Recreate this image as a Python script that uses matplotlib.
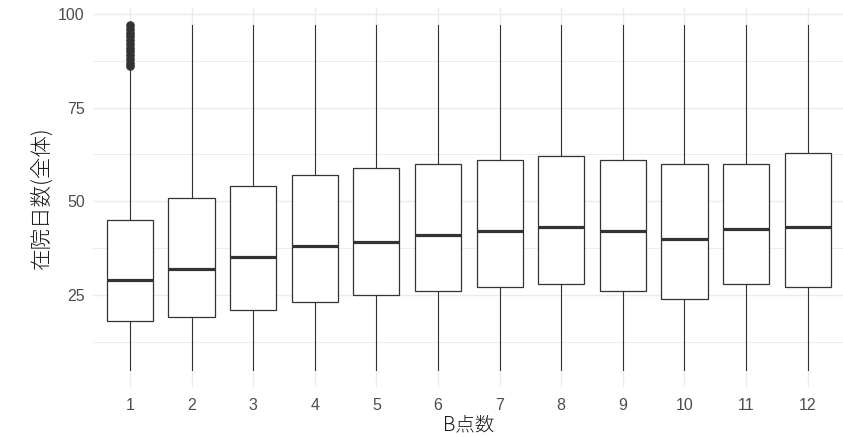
import matplotlib
matplotlib.use("Agg")
import matplotlib.pyplot as plt
from matplotlib.ticker import FixedLocator

plt.rcParams['font.family'] = ['Liberation Sans', 'Noto Sans CJK JP', 'DejaVu Sans']

# B点数 groups and box statistics of 在院日数
groups = ["1", "2", "3", "4", "5", "6", "7", "8", "9", "10", "11", "12"]
q1 = [18, 19, 21, 23, 25, 26, 27, 28, 26, 24, 28, 27]
median = [29, 32, 35, 38, 39, 41, 42, 43, 42, 40, 42.5, 43]
q3 = [45, 51, 54, 57, 59, 60, 61, 62, 61, 60, 60, 63]
whisker_low = [5, 5, 5, 5, 5, 5, 5, 5, 5, 5, 5, 5]
whisker_high = [85, 97, 97, 97, 97, 97, 97, 97, 97, 97, 97, 97]
outliers_group1 = [86, 87, 88, 89, 90, 91, 92, 93, 94, 95, 96, 97]

y_ticks = [25, 50, 75, 100]
y_minor = [12.5, 37.5, 62.5, 87.5]

W, H = 843, 437
fig = plt.figure(figsize=(W / 100, H / 100), dpi=100)
left, right, top, bottom = 93, 844.6, 8, 387
ax = fig.add_axes([left / W, 1 - bottom / H, (right - left) / W, (bottom - top) / H])

stats = []
for i, g in enumerate(groups):
    stats.append(dict(
        label=g, q1=q1[i], med=median[i], q3=q3[i],
        whislo=whisker_low[i], whishi=whisker_high[i],
        fliers=outliers_group1 if i == 0 else [],
    ))

dark = "#333333"
positions = list(range(1, len(groups) + 1))
ax.bxp(stats, positions=positions, widths=0.75, showcaps=False, patch_artist=True,
       boxprops=dict(facecolor="white", edgecolor=dark, linewidth=0.9),
       medianprops=dict(color=dark, linewidth=2.3, solid_capstyle="butt"),
       whiskerprops=dict(color=dark, linewidth=0.8),
       flierprops=dict(marker="o", markersize=5.2, markerfacecolor=dark,
                       markeredgecolor=dark, linestyle="none"),
       zorder=3)

ax.set_xlim(0.4, 12.6)
ax.set_ylim(0.4, 101.6)
ax.set_xticks(positions)
ax.set_xticklabels(groups)
ax.yaxis.set_major_locator(FixedLocator(y_ticks))
ax.yaxis.set_minor_locator(FixedLocator(y_minor))

grid = "#EBEBEB"
ax.grid(True, which="major", color=grid, linewidth=1.0, zorder=0)
ax.grid(True, which="minor", axis="y", color=grid, linewidth=0.6, zorder=0)
ax.set_axisbelow(True)
for s in ax.spines.values():
    s.set_visible(False)
ax.tick_params(axis="both", which="both", length=0, labelsize=11.5, labelcolor="#4D4D4D")
ax.tick_params(axis="x", pad=8)
ax.tick_params(axis="y", pad=6)

ax.set_xlabel("B点数", fontsize=14, color="#1A1A1A", labelpad=1, fontweight="light",
              family=['Noto Sans CJK JP', 'Liberation Sans'])
ax.set_ylabel("在院日数(全体)", fontsize=15.5, color="#1A1A1A", labelpad=4, fontweight="light",
              family=['Noto Sans CJK JP', 'Liberation Sans'])

fig.savefig("out.png", dpi=100, facecolor="white")
